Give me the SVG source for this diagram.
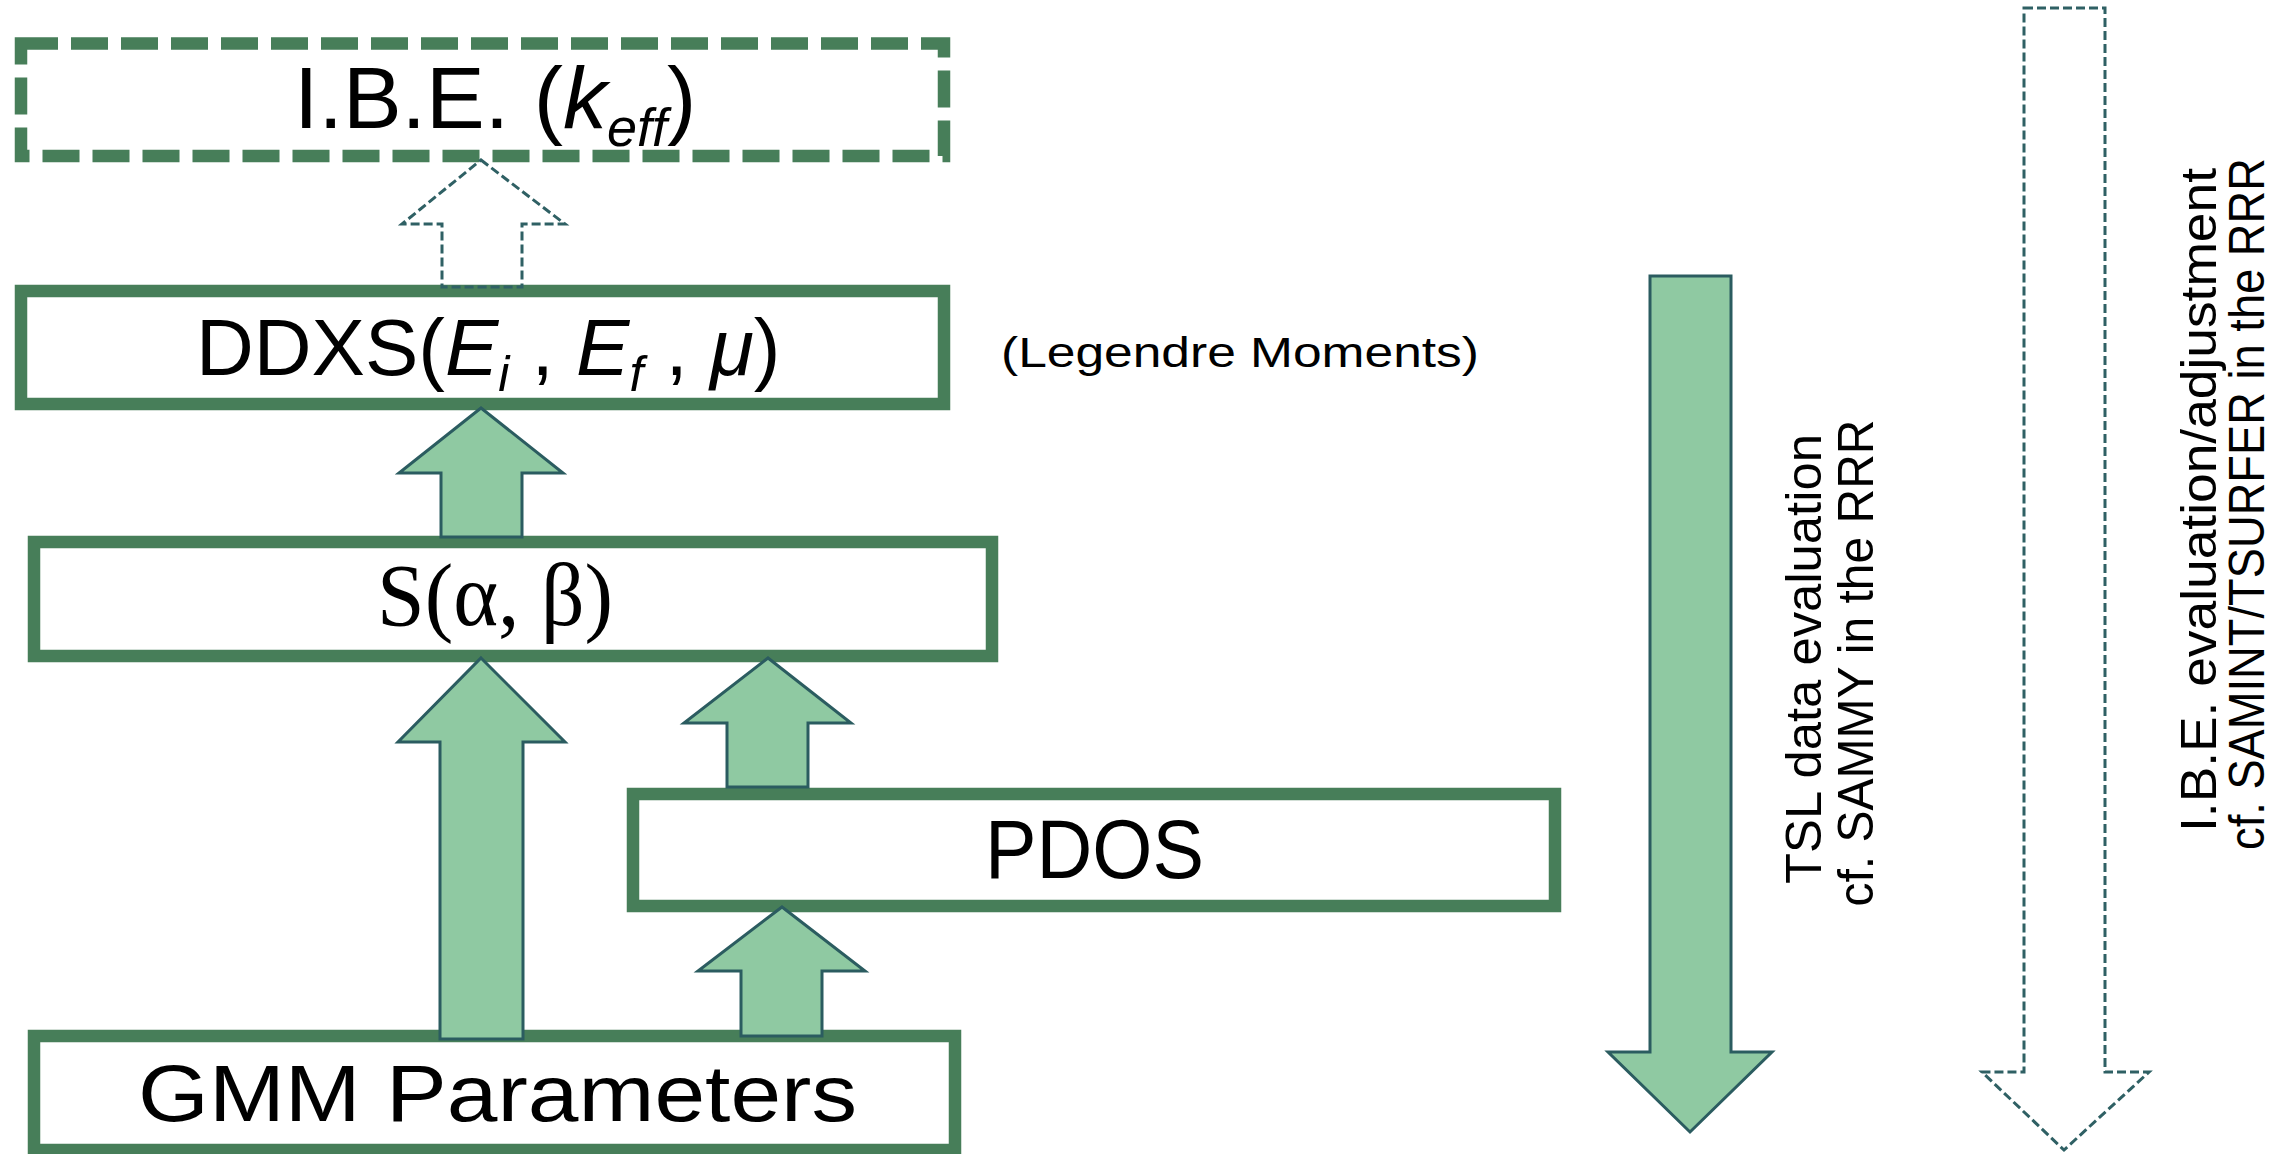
<svg xmlns="http://www.w3.org/2000/svg" width="2275" height="1154" viewBox="0 0 2275 1154">
  <style>
    .box { fill: #ffffff; stroke: #477E59; stroke-width: 12.5; }
    .dbox { fill: #ffffff; stroke: #477E59; stroke-width: 12.5; stroke-dasharray: 37 13; }
    .arr { fill: #8FC9A2; stroke: #2B5C60; stroke-width: 3; stroke-linejoin: miter; }
    .darr { fill: none; stroke: #2F6064; stroke-width: 3; stroke-dasharray: 9 4; }
    .lbl { font-family: "Liberation Sans", Arial, sans-serif; fill: #000000; }
    .sym { font-family: "Liberation Serif", "Times New Roman", serif; fill: #000000; }
  </style>
  <rect width="2275" height="1154" fill="#ffffff"/>

  <g id="node-ibe">
    <rect class="dbox" x="21" y="43.5" width="923" height="112.5"/>
    <text class="lbl" x="294" y="128" font-size="88">I.B.E. (<tspan font-style="italic">k</tspan><tspan font-style="italic" font-size="54" dy="18">eff</tspan><tspan dy="-18">)</tspan></text>
  </g>

  <g id="node-ddxs">
    <rect class="box" x="21" y="291" width="923" height="113"/>
    <text class="lbl" x="196" y="375" font-size="80">DDXS(<tspan font-style="italic">E</tspan><tspan font-style="italic" font-size="50" dy="16">i</tspan><tspan dy="-16"> , </tspan><tspan font-style="italic">E</tspan><tspan font-style="italic" font-size="50" dy="16">f</tspan><tspan dy="-16"> , </tspan><tspan font-style="italic">μ</tspan>)</text>
  </g>

  <g id="node-legendre">
    <text class="lbl" x="1001" y="367" font-size="42" textLength="478" lengthAdjust="spacingAndGlyphs">(Legendre Moments)</text>
  </g>

  <g id="node-sab">
    <rect class="box" x="34" y="542" width="958" height="114"/>
    <text class="sym" x="377" y="625" font-size="88" textLength="236" lengthAdjust="spacingAndGlyphs">S(α, β)</text>
  </g>

  <g id="node-pdos">
    <rect class="box" x="633" y="794" width="922" height="112"/>
    <text class="lbl" x="985" y="878" font-size="84" textLength="219" lengthAdjust="spacingAndGlyphs">PDOS</text>
  </g>

  <g id="node-gmm">
    <rect class="box" x="34" y="1036" width="921" height="114"/>
    <text class="lbl" x="138" y="1121" font-size="80" textLength="719" lengthAdjust="spacingAndGlyphs">GMM Parameters</text>
  </g>

  <g id="node-tsl-label">
    <text class="lbl" x="1821" y="659" font-size="50" text-anchor="middle" textLength="450" lengthAdjust="spacingAndGlyphs" transform="rotate(-90 1821 659)">TSL data evaluation</text>
    <text class="lbl" x="1873" y="663" font-size="50" text-anchor="middle" textLength="487" lengthAdjust="spacingAndGlyphs" transform="rotate(-90 1873 663)">cf. SAMMY in the RRR</text>
  </g>

  <g id="node-ibe-label">
    <text class="lbl" x="2216" y="500" font-size="50" text-anchor="middle" textLength="664" lengthAdjust="spacingAndGlyphs" transform="rotate(-90 2216 500)">I.B.E. evaluation/adjustment</text>
    <text class="lbl" x="2264" y="504" font-size="50" text-anchor="middle" textLength="692" lengthAdjust="spacingAndGlyphs" transform="rotate(-90 2264 504)">cf. SAMINT/TSURFER in the RRR</text>
  </g>

  <g id="connectors">
    <polygon class="darr" points="481,160 565,224 522,224 522,287 442,287 442,224 402,224"/>
    <polygon class="arr" points="481,408 563,473 522,473 522,537 441,537 441,473 399,473"/>
    <polygon class="arr" points="481,658 565,742 523,742 523,1039 440,1039 440,742 398,742"/>
    <polygon class="arr" points="768,658 851,723 808,723 808,787 727,787 727,723 684,723"/>
    <polygon class="arr" points="782,907 865,971 822,971 822,1036 741,1036 741,971 698,971"/>
    <polygon class="arr" points="1650,276 1731,276 1731,1052 1772,1052 1690,1132 1608,1052 1650,1052"/>
    <polygon class="darr" points="2024,8 2105,8 2105,1072 2149,1072 2064,1150 1982,1072 2024,1072"/>
  </g>
</svg>
